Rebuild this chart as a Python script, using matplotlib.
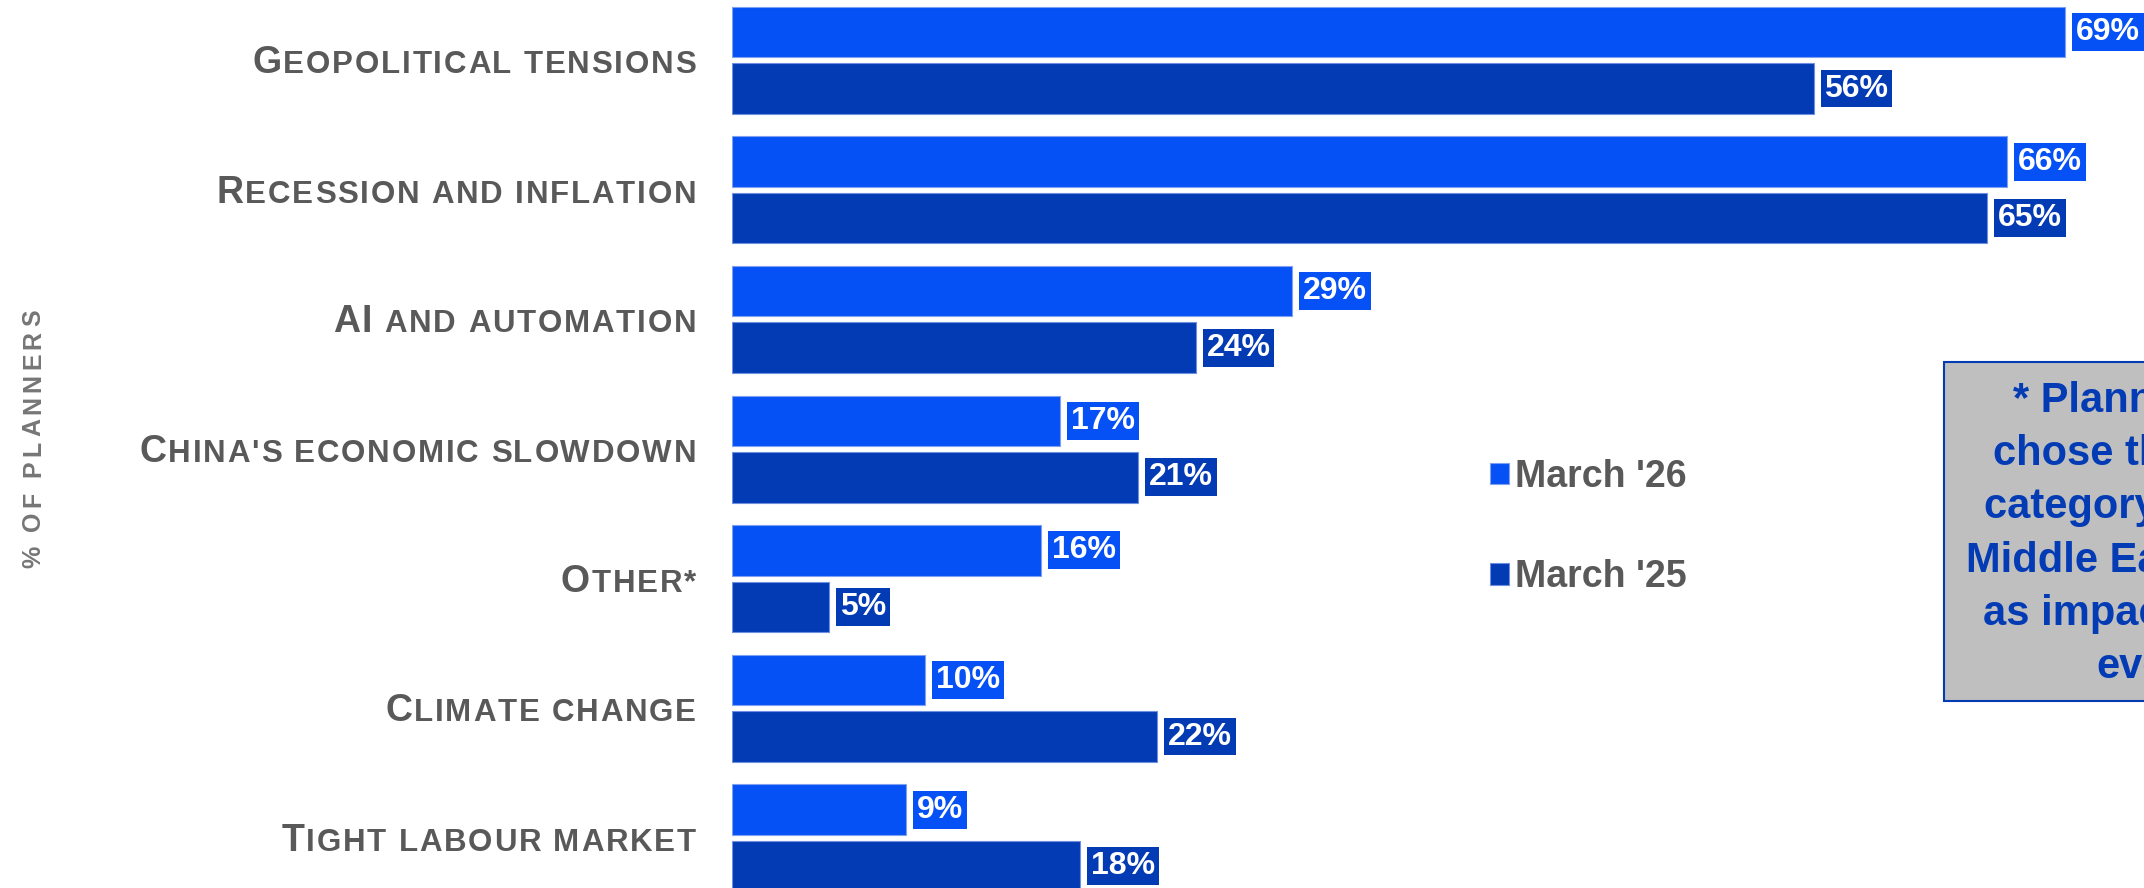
import numpy as np
import matplotlib
matplotlib.use('Agg')
import matplotlib.pyplot as plt
from matplotlib.font_manager import FontProperties, findfont, get_font
from matplotlib.patches import Rectangle
from matplotlib.transforms import IdentityTransform

plt.rcParams['font.family'] = 'Liberation Sans'

categories = ['Geopolitical tensions', 'Recession and inflation', 'AI and automation',
              "China's economic slowdown", 'Other*', 'Climate change', 'Tight labour market']
march_26 = [69, 66, 29, 17, 16, 10, 9]
march_25 = [56, 65, 24, 21, 5, 22, 18]
series_names = ["March '26", "March '25"]
axis_title = '% of planners'
note_lines = ['* Planners who', "chose the 'Other'", 'category cited the',
              'Middle East conflict', 'as impacting their', 'events']

W, H = 2144, 888
LIGHT = '#0551F5'
DARK = '#033BB5'
GREY = '#595959'

fig = plt.figure(figsize=(W / 100, H / 100), dpi=100)
# plot area runs off the right and bottom of the canvas
ax = fig.add_axes([732 / W, -14.65 / H, 1545 / W, 907.2 / H])

y = np.arange(len(categories))
off, bh = 0.218, 0.39
b26 = ax.barh(y - off, march_26, height=bh, color=LIGHT, edgecolor='#7F9FEF', linewidth=0.8)
b25 = ax.barh(y + off, march_25, height=bh, color=DARK, edgecolor='#6F8FE0', linewidth=0.8)
ax.set_xlim(0, 80)
ax.set_ylim(6.5, -0.5)
ax.axis('off')

# value tags
for bars, vals, col in [(b26, march_26, LIGHT), (b25, march_25, DARK)]:
    for bar, v in zip(bars, vals):
        ax.annotate(f'{v}%', (v, bar.get_y() + bar.get_height() / 2), xytext=(11, 0),
                    textcoords='offset pixels', ha='left', va='center', color='white',
                    fontsize=23, fontweight='bold',
                    bbox=dict(boxstyle='square,pad=0.125', fc=col, ec='none'))


def advance(ch, size):
    fp = FontProperties(family='Liberation Sans', weight='bold', size=size)
    font = get_font(findfont(fp))
    font.set_size(size, fig.dpi)
    return font.load_char(ord(ch)).linearHoriAdvance / 65536


def tracked(parts, track):
    widths = [advance(c, s) for c, s in parts]
    return widths, sum(widths) + track * (len(parts) - 1)


# category names in small caps with letter spacing
track = 1.8
for i, name in enumerate(categories):
    parts = [(c.upper(), 27 if c.isupper() else 22.5) for c in name]
    widths, total = tracked(parts, track)
    yc = ax.transData.transform((0, i))[1]
    x = 696 - total
    for (c, s), w in zip(parts, widths):
        fig.text(x, yc - 13, c, fontsize=s, fontweight='bold', color=GREY,
                 ha='left', va='baseline', transform=IdentityTransform())
        x += w + track

# rotated axis title
parts = [(c, 18) for c in axis_title.upper()]
widths, total = tracked(parts, 4.2)
yy = (H - 439) - total / 2
for (c, s), w in zip(parts, widths):
    fig.text(40, yy, c, fontsize=s, fontweight='bold', color='#767676', rotation=90,
             rotation_mode='anchor', ha='left', va='baseline', transform=IdentityTransform())
    yy += w + 4.2

ax.legend([b26, b25], series_names, loc='center left', bbox_to_anchor=(1490 / W, 1 - 527 / H),
          bbox_transform=fig.transFigure, frameon=False, prop={'weight': 'bold', 'size': 27},
          handlelength=0.5, handleheight=0.5, handletextpad=0.17, labelspacing=1.72,
          borderpad=0, borderaxespad=0, labelcolor=GREY)

# footnote box
fig.add_artist(Rectangle((1944 / W, 1 - 701 / H), 436 / W, 339 / H, transform=fig.transFigure,
                         fc='#BFBFBF', ec=DARK, lw=1.5))
for k, line in enumerate(note_lines):
    fig.text(2162 / W, 1 - (412 + 53.2 * k) / H, line, ha='center', va='baseline',
             fontsize=30, fontweight='bold', color=DARK)

fig.savefig('out.png', dpi=100)
